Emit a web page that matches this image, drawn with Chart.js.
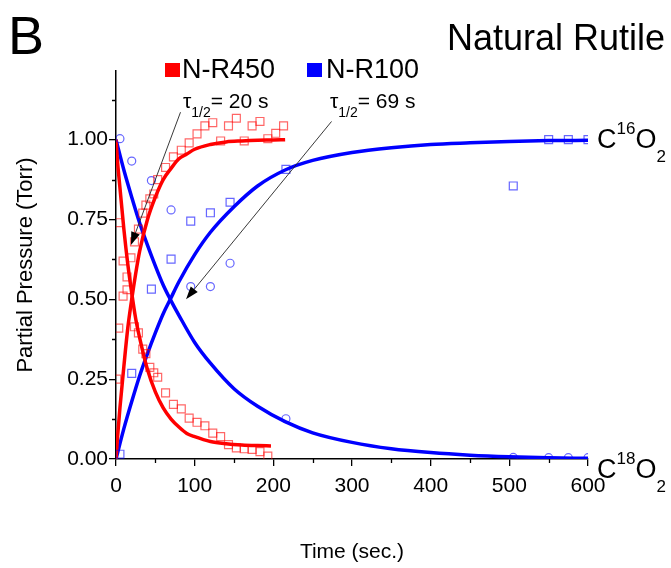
<!DOCTYPE html>
<html>
<head>
<meta charset="utf-8">
<script src="https://cdn.jsdelivr.net/npm/chart.js@4.4.0/dist/chart.umd.min.js"></script>
<style>
  html, body { margin: 0; padding: 0; background: #fff; }
</style>
</head>
<body>
<canvas id="chart" width="671" height="568"></canvas>
<script>
// ---- data ----
// N-R450 measured points (open squares)
const R450_T_C16 = [1, 3.5, 9, 14, 19, 23.5, 28.5, 34, 38, 43, 48, 53, 63, 73, 83, 93, 103, 113, 123, 133, 143, 153, 163, 173, 183, 193, 203, 213];
const R450_C16 = [0.25, 0.41, 0.51, 0.57, 0.63, 0.68, 0.72, 0.77, 0.795, 0.815, 0.83, 0.875, 0.913, 0.946, 0.967, 0.99, 1.018, 1.043, 1.053, 0.996, 1.043, 1.067, 0.996, 1.043, 1.057, 1.003, 1.02, 1.043];
const R450_T_C18 = [3.5, 9, 14, 23.5, 28.5, 34, 38, 43, 48, 53, 63, 73, 83, 93, 103, 113, 123, 133, 143, 153, 163, 173, 183, 193];
const R450_C18 = [0.74, 0.62, 0.53, 0.414, 0.395, 0.344, 0.33, 0.287, 0.27, 0.256, 0.207, 0.171, 0.157, 0.128, 0.115, 0.104, 0.081, 0.07, 0.045, 0.035, 0.032, 0.03, 0.023, 0.009];

// N-R100 measured points (squares = C16O2, circles = C18O2)
const R100_T = [5, 20, 45, 70, 95, 120, 145, 216, 505, 550, 575, 600];
const R100_C16 = [0.015, 0.268, 0.532, 0.626, 0.745, 0.771, 0.804, 0.907, 0.855, 1.0, 1.0, 1.0];
const R100_C18 = [1.003, 0.933, 0.872, 0.78, 0.54, 0.54, 0.613, 0.126, 0.005, 0.004, 0.004, 0.004];

// fitted curves
const FIT450_T_UP = [0, 2, 5, 10, 15, 20, 25, 30, 40, 50, 60, 70, 80, 90, 100, 120, 140, 160, 180, 200, 215];
const FIT450_UP = [0, 0.07, 0.16, 0.29, 0.41, 0.5, 0.58, 0.65, 0.75, 0.82, 0.875, 0.91, 0.94, 0.955, 0.97, 0.985, 0.993, 0.996, 0.998, 0.999, 1.0];
const FIT450_T_DOWN = [0, 2, 5, 10, 15, 20, 25, 30, 40, 50, 60, 70, 80, 90, 100, 120, 140, 160, 180, 197];
const FIT450_DOWN = [1.0, 0.93, 0.85, 0.72, 0.61, 0.52, 0.44, 0.38, 0.28, 0.21, 0.16, 0.125, 0.1, 0.08, 0.07, 0.055, 0.048, 0.044, 0.042, 0.041];
const FIT100_T = [0, 10, 20, 30, 40, 50, 60, 69, 80, 100, 120, 150, 180, 215, 250, 300, 350, 400, 450, 500, 550, 600];
const FIT100_UP = [0, 0.095, 0.18, 0.26, 0.33, 0.395, 0.455, 0.5, 0.555, 0.64, 0.71, 0.79, 0.855, 0.905, 0.935, 0.96, 0.975, 0.985, 0.99, 0.994, 0.997, 0.998];
const FIT100_DOWN = [1.0, 0.905, 0.82, 0.74, 0.67, 0.605, 0.545, 0.5, 0.45, 0.365, 0.3, 0.22, 0.165, 0.117, 0.082, 0.052, 0.032, 0.02, 0.012, 0.007, 0.004, 0.002];

// half-life arrows: [t, value] start -> tip
const ARROW_20 = { from: [82, 1.086], to: [19, 0.67] };
const ARROW_69 = { from: [274, 1.057], to: [89, 0.5] };

const FONT = '"Liberation Sans", Arial, sans-serif';
const RED = '#ff0000';
const BLUE = '#0000ff';

function pairs(xs, ys) {
    return xs.map((x, i) => ({ x: x, y: ys[i] }));
}

function isMultiple(v, step) {
    return Math.abs(v / step - Math.round(v / step)) < 1e-6;
}

function markerSet(label, xs, ys, color, style, radius) {
    return {
        label: label,
        data: pairs(xs, ys),
        showLine: false,
        pointStyle: style,
        pointRadius: radius,
        pointBorderWidth: 1.2,
        pointBorderColor: color,
        pointBackgroundColor: 'rgba(0,0,0,0)'
    };
}

function fitSet(label, xs, ys, color) {
    return {
        label: label,
        data: pairs(xs, ys),
        showLine: true,
        borderColor: color,
        borderWidth: 3.5,
        pointRadius: 0,
        cubicInterpolationMode: 'monotone'
    };
}

// writes a run of text pieces (normal / sub / sup) left to right
function writeParts(ctx, parts, x, y) {
    let cx = x;
    parts.forEach(p => {
        ctx.font = p.size + 'px ' + FONT;
        ctx.fillText(p.text, cx, y + (p.dy || 0));
        cx += ctx.measureText(p.text).width;
    });
}

function drawArrow(ctx, x1, y1, x2, y2) {
    const a = Math.atan2(y2 - y1, x2 - x1);
    const len = 13, half = 4.5;
    ctx.strokeStyle = '#222';
    ctx.lineWidth = 0.9;
    ctx.beginPath();
    ctx.moveTo(x1, y1);
    ctx.lineTo(x2 - len * 0.5 * Math.cos(a), y2 - len * 0.5 * Math.sin(a));
    ctx.stroke();
    ctx.fillStyle = '#000';
    ctx.beginPath();
    ctx.moveTo(x2, y2);
    ctx.lineTo(x2 - len * Math.cos(a) + half * Math.sin(a), y2 - len * Math.sin(a) - half * Math.cos(a));
    ctx.lineTo(x2 - len * Math.cos(a) - half * Math.sin(a), y2 - len * Math.sin(a) + half * Math.cos(a));
    ctx.closePath();
    ctx.fill();
}

// minor ticks are shorter than major ones
const minorTicks = {
    id: 'minorTicks',
    afterDraw(chart) {
        const ctx = chart.ctx;
        const xs = chart.scales.x, ys = chart.scales.y;
        ctx.save();
        ctx.strokeStyle = '#000';
        ctx.lineWidth = 1.3;
        ctx.beginPath();
        xs.ticks.forEach(t => {
            if (!isMultiple(t.value, 100) && isMultiple(t.value, 50)) {
                const px = Math.round(xs.getPixelForValue(t.value)) + 0.5;
                ctx.moveTo(px, ys.bottom);
                ctx.lineTo(px, ys.bottom + 4);
            }
        });
        ys.ticks.forEach(t => {
            if (!isMultiple(t.value, 0.25) && isMultiple(t.value, 0.125)) {
                const py = Math.round(ys.getPixelForValue(t.value)) + 0.5;
                ctx.moveTo(xs.left, py);
                ctx.lineTo(xs.left - 4, py);
            }
        });
        ctx.stroke();
        ctx.restore();
    }
};

const annotations = {
    id: 'annotations',
    afterDraw(chart) {
        const ctx = chart.ctx;
        const xs = chart.scales.x, ys = chart.scales.y;
        ctx.save();
        ctx.fillStyle = '#000';
        ctx.textBaseline = 'alphabetic';
        ctx.textAlign = 'left';

        // panel letter and title
        ctx.font = '54px ' + FONT;
        ctx.fillText('B', 8, 54);
        ctx.font = '36px ' + FONT;
        ctx.fillText('Natural Rutile', 447, 50);

        // legend
        ctx.fillStyle = RED;
        ctx.fillRect(165, 63, 15, 14);
        ctx.fillStyle = BLUE;
        ctx.fillRect(307, 63, 15, 14);
        ctx.fillStyle = '#000';
        ctx.font = '27px ' + FONT;
        ctx.fillText('N-R450', 182, 78);
        ctx.fillText('N-R100', 326, 78);

        // half-life labels
        writeParts(ctx, [
            { text: 'τ', size: 21 },
            { text: '1/2', size: 14, dy: 9 },
            { text: '= 20 s', size: 21 }
        ], 183, 108);
        writeParts(ctx, [
            { text: 'τ', size: 21 },
            { text: '1/2', size: 14, dy: 9 },
            { text: '= 69 s', size: 21 }
        ], 330, 108);

        // arrows pointing at the half-life crossings
        [ARROW_20, ARROW_69].forEach(a => {
            drawArrow(ctx,
                xs.getPixelForValue(a.from[0]), ys.getPixelForValue(a.from[1]),
                xs.getPixelForValue(a.to[0]), ys.getPixelForValue(a.to[1]));
        });

        // species labels
        writeParts(ctx, [
            { text: 'C', size: 27 },
            { text: '16', size: 17, dy: -14 },
            { text: 'O', size: 27 },
            { text: '2', size: 17, dy: 14 }
        ], 597, 148);
        writeParts(ctx, [
            { text: 'C', size: 27 },
            { text: '18', size: 17, dy: -14 },
            { text: 'O', size: 27 },
            { text: '2', size: 17, dy: 14 }
        ], 597, 478);
        ctx.restore();
    }
};

Chart.defaults.font.family = FONT;
Chart.defaults.color = '#000';

new Chart(document.getElementById('chart').getContext('2d'), {
    type: 'scatter',
    data: {
        datasets: [
            markerSet('N-R450 C16O2', R450_T_C16, R450_C16, 'rgba(255,0,0,0.6)', 'rect', 5.6),
            markerSet('N-R450 C18O2', R450_T_C18, R450_C18, 'rgba(255,0,0,0.6)', 'rect', 5.6),
            markerSet('N-R100 C16O2', R100_T, R100_C16, 'rgba(0,0,255,0.6)', 'rect', 5.6),
            markerSet('N-R100 C18O2', R100_T, R100_C18, 'rgba(0,0,255,0.6)', 'circle', 4),
            fitSet('N-R450 fit up', FIT450_T_UP, FIT450_UP, RED),
            fitSet('N-R450 fit down', FIT450_T_DOWN, FIT450_DOWN, RED),
            fitSet('N-R100 fit up', FIT100_T, FIT100_UP, BLUE),
            fitSet('N-R100 fit down', FIT100_T, FIT100_DOWN, BLUE)
        ]
    },
    options: {
        responsive: false,
        animation: false,
        layout: {
            padding: { top: 71, right: 83, left: 0, bottom: 0 }
        },
        plugins: {
            legend: { display: false },
            tooltip: { enabled: false }
        },
        scales: {
            x: {
                type: 'linear',
                min: 0,
                max: 600,
                afterFit: function(scale) { scale.height = 109; },
                border: { display: true, color: '#000', width: 1.5 },
                grid: {
                    drawOnChartArea: false,
                    tickLength: 7,
                    lineWidth: 1.3,
                    color: ctx => isMultiple(ctx.tick.value, 100) ? '#000' : 'rgba(0,0,0,0)'
                },
                ticks: {
                    stepSize: 50,
                    autoSkip: false,
                    maxRotation: 0,
                    padding: 8,
                    font: { size: 21 },
                    callback: v => isMultiple(v, 100) ? String(v) : ''
                },
                title: {
                    display: true,
                    text: 'Time (sec.)',
                    font: { size: 21 },
                    padding: { top: 0, bottom: 3 }
                }
            },
            y: {
                type: 'linear',
                min: 0,
                max: 1.215,
                afterFit: function(scale) { scale.width = 116; },
                border: { display: true, color: '#000', width: 1.5 },
                grid: {
                    drawOnChartArea: false,
                    tickLength: 7,
                    lineWidth: 1.3,
                    color: ctx => isMultiple(ctx.tick.value, 0.25) ? '#000' : 'rgba(0,0,0,0)'
                },
                ticks: {
                    stepSize: 0.125,
                    autoSkip: false,
                    padding: 1,
                    font: { size: 21 },
                    callback: v => isMultiple(v, 0.25) ? v.toFixed(2) : ''
                },
                title: {
                    display: true,
                    text: 'Partial Pressure (Torr)',
                    font: { size: 22 },
                    padding: { top: 13, bottom: 0 }
                }
            }
        }
    },
    plugins: [minorTicks, annotations]
});
</script>
</body>
</html>
